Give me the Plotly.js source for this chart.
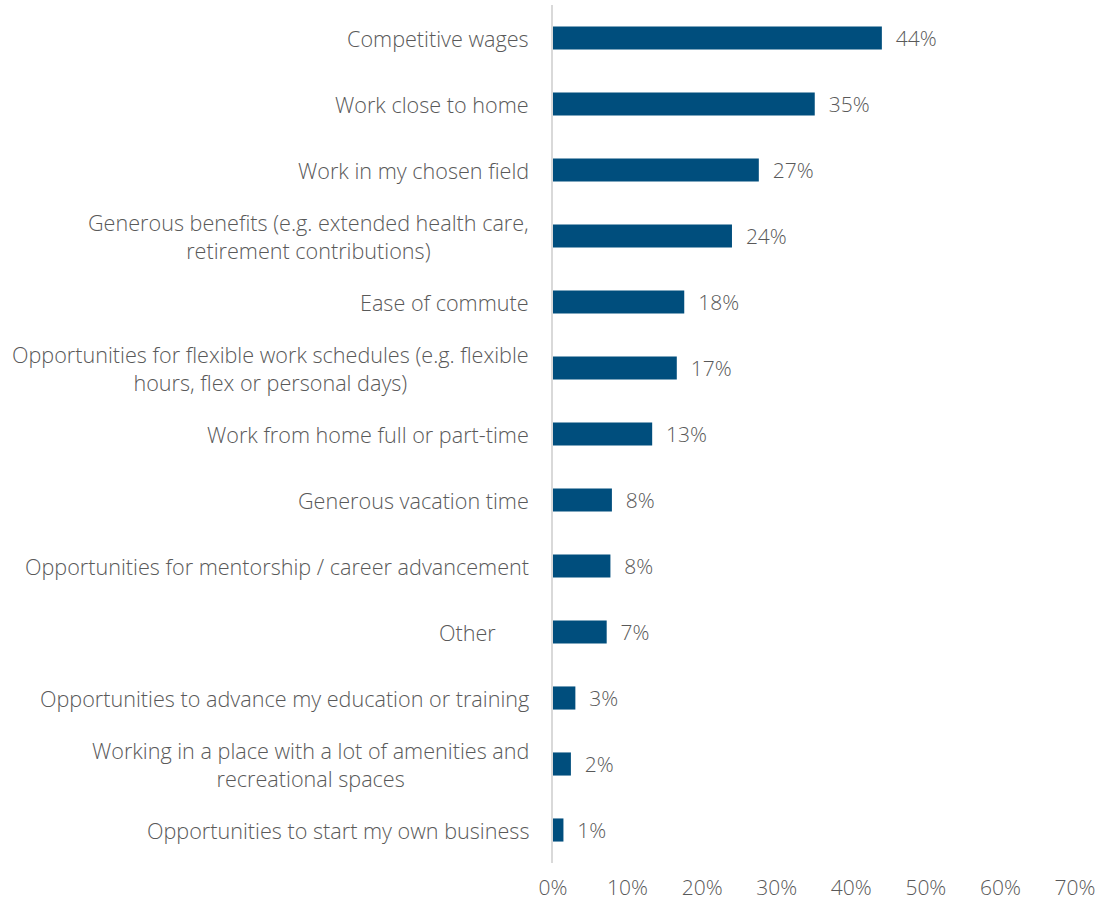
<!DOCTYPE html>
<html>
<head>
<meta charset="utf-8">
<script src="https://cdn.plot.ly/plotly-3.0.1.min.js"></script>
<style>html,body{margin:0;padding:0;background:#fff;}#chart{width:1104px;height:905px;}</style>
</head>
<body>
<div id="chart"></div>
<script>
const categories = [
  "Competitive wages",
  "Work close to home",
  "Work in my chosen field",
  "Generous benefits (e.g. extended health care,<br>retirement contributions)",
  "Ease of commute",
  "Opportunities for flexible work schedules (e.g. flexible<br>hours, flex or personal days)",
  "Work from home full or part-time",
  "Generous vacation time",
  "Opportunities for mentorship / career advancement",
  "Other\u00a0\u00a0\u00a0\u00a0\u00a0\u00a0",
  "Opportunities to advance my education or training",
  "Working in a place with a lot of amenities and<br>recreational spaces",
  "Opportunities to start my own business"
];
const values = [44.1, 35.1, 27.6, 24.0, 17.6, 16.6, 13.3, 7.9, 7.7, 7.2, 3.0, 2.4, 1.4];
const valueLabels = ["44%", "35%", "27%", "24%", "18%", "17%", "13%", "8%", "8%", "7%", "3%", "2%", "1%"];
const xTickValues = [0, 10, 20, 30, 40, 50, 60, 70];
const xTickLabels = ["0%", "10%", "20%", "30%", "40%", "50%", "60%", "70%"];

const FONT = "'Open Sans', 'Noto Sans', sans-serif";
const GREY = "#595959";
const FS = 21;
const CAT_FS = 21.6;

const trace = {
  type: "bar",
  orientation: "h",
  x: values,
  y: categories,
  text: valueLabels,
  texttemplate: "\u00a0\u00a0%{text}",
  textposition: "outside",
  constraintext: "none",
  cliponaxis: false,
  textfont: {family: FONT, size: FS, color: GREY, weight: 300},
  marker: {color: "#004e7d", line: {width: 0}},
  hoverinfo: "skip"
};

const annotations = categories.map(c => ({
  xref: "paper", yref: "y", x: 0, y: c,
  xanchor: "right", yanchor: "middle",
  text: c, showarrow: false, align: "center",
  xshift: -22,
  font: {family: FONT, size: CAT_FS, color: GREY, weight: 300}
}));

const layout = {
  width: 1104, height: 905,
  margin: {l: 553, r: 29, t: 5, b: 42},
  paper_bgcolor: "#ffffff", plot_bgcolor: "#ffffff",
  bargap: 0.65,
  showlegend: false,
  xaxis: {
    range: [0, 70], tickmode: "array", tickvals: xTickValues, ticktext: xTickLabels,
    showgrid: false, zeroline: false, showline: false,
    ticks: "", ticklabelstandoff: 10,
    tickfont: {family: FONT, size: FS, color: GREY, weight: 300},
    fixedrange: true
  },
  yaxis: {
    autorange: "reversed", type: "category",
    showticklabels: false, ticks: "",
    showgrid: false, zeroline: false,
    showline: true, linecolor: "#d9d9d9", linewidth: 2,
    fixedrange: true
  },
  annotations: annotations
};

Plotly.newPlot("chart", [trace], layout, {displayModeBar: false, staticPlot: true});
</script>
</body>
</html>
